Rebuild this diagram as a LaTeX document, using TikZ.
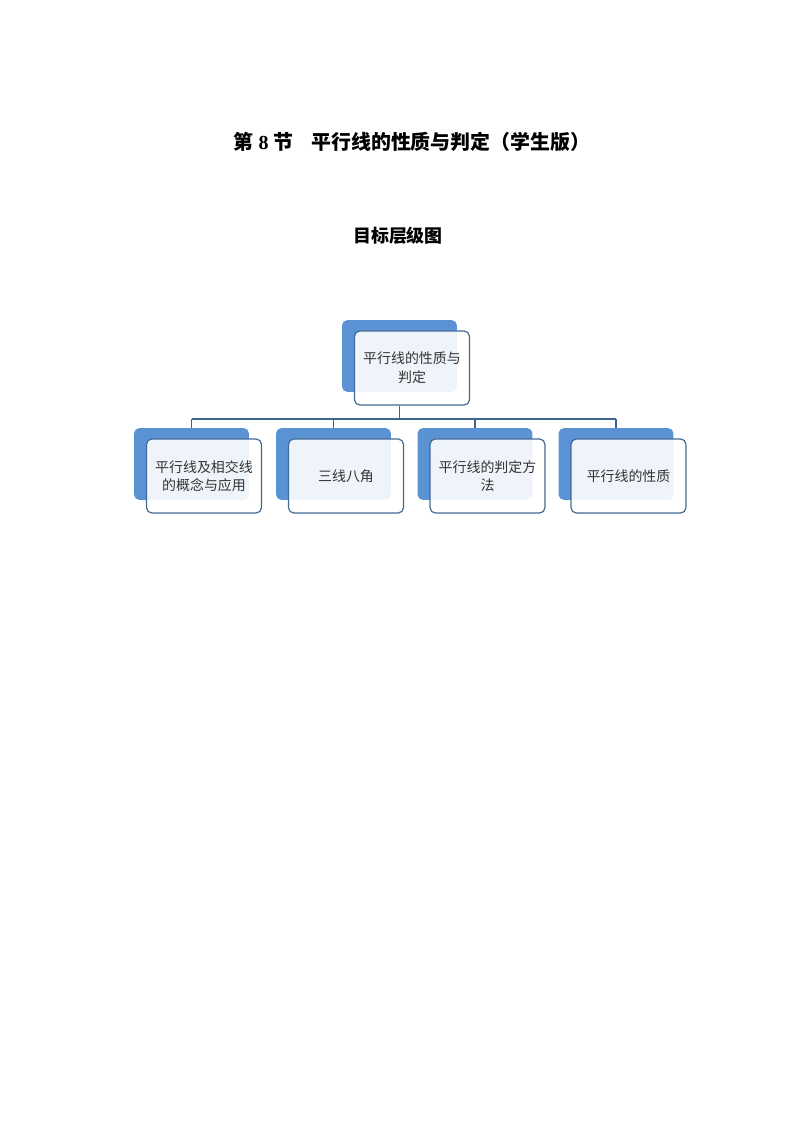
\documentclass[tikz,border=0pt]{standalone}
\usepackage{fontspec}
\setmainfont{Liberation Serif}
\newfontfamily\cjk{Noto Sans CJK SC}
\definecolor{backblue}{RGB}{91,146,211}
\definecolor{edgeblue}{RGB}{66,106,150}
\definecolor{linkblue}{RGB}{60,100,140}

\begin{document}
\begin{tikzpicture}[x=0.02646cm,y=-0.02646cm,
    back/.style={rectangle,rounded corners=4pt,fill=backblue,minimum width=3.04cm,minimum height=1.9cm},
    front/.style={rectangle,rounded corners=4pt,draw=edgeblue,line width=0.9pt,fill=white,fill opacity=0.9,text opacity=1,
      minimum width=3.04cm,minimum height=1.96cm,align=center,text=black!80,font=\cjk\fontsize{10.5}{14}\selectfont},
    link/.style={draw=linkblue,line width=0.8pt}]
    	\useasboundingbox (0,0) rectangle (794,1122);

    	\node[font=\bfseries\fontsize{15}{18}\selectfont] (title) at (412,142) {{\cjk 第} 8 {\cjk 节}\hspace{0.9em}{\cjk 平行线的性质与判定（学生版）}};
    	\node[font=\cjk\bfseries\fontsize{13.5}{16}\selectfont] (subtitle) at (398,236) {目标层级图};

    	\node[back] (topback) at (399.5,356) {};
    	\node[front] (topfront) at (412,368) {平行线的性质与\\判定};

    	\foreach \i/\x/\txt in {1/191.5/{平行线及相交线\\的概念与应用}, 2/333.5/{三线八角}, 3/475/{平行线的判定方\\法}, 4/616/{平行线的性质}}{
    		\node[back] (back\i) at (\x,464) {};
    		\node[front] (front\i) at (\x+12.5,476) {\txt};
    	}

    	\coordinate (bus) at (399.5,419);
    	\draw[link] (topback |- topfront.south) -- (topback |- bus);
    	\draw[link] (back1 |- bus) -- (back4 |- bus);
    	\foreach \i in {1, 2, 3, 4}{
    		\draw[link] (back\i |- bus) -- (back\i.north);
    	}

    	\end{tikzpicture}
\end{document}
